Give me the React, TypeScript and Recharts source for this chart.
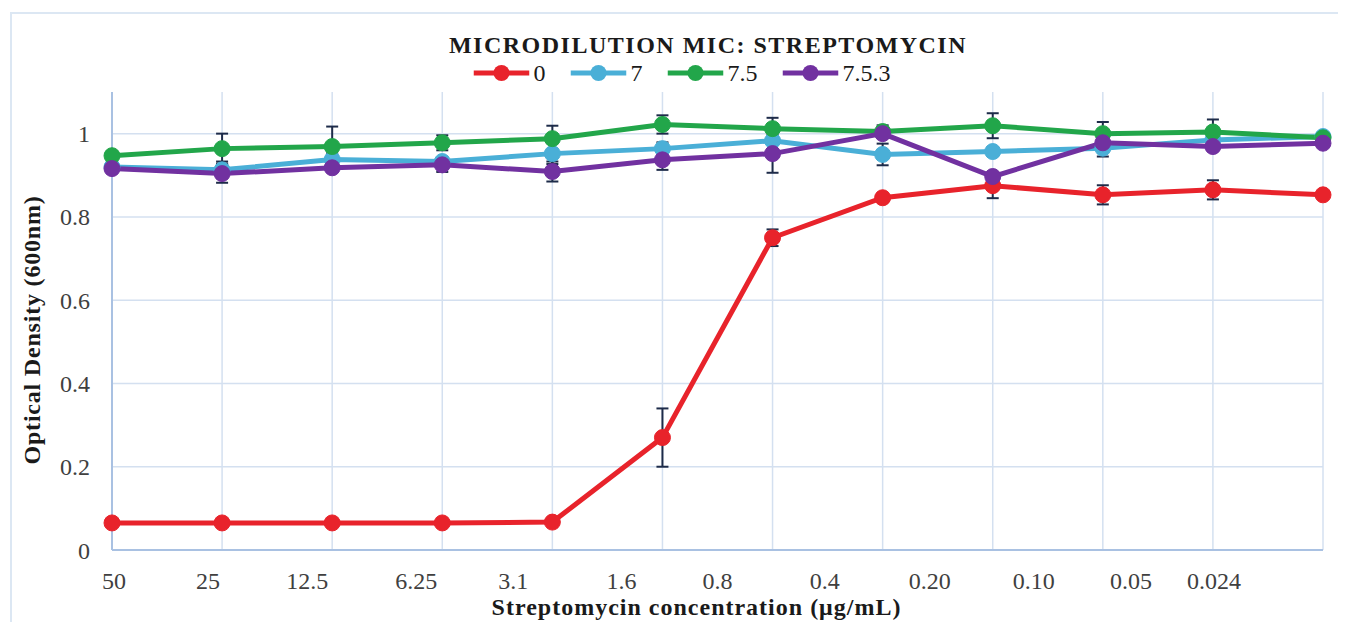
import React from 'react'
import { LineChart, Line, XAxis, YAxis, CartesianGrid, ErrorBar, Label } from 'recharts'

const categories = ['50', '25', '12.5', '6.25', '3.1', '1.6', '0.8', '0.4', '0.20', '0.10', '0.05', '0.024']

const od0 = [0.065, 0.065, 0.065, 0.065, 0.067, 0.27, 0.75, 0.846, 0.875, 0.853, 0.865, 0.853]
const err0 = [0, 0, 0, 0, 0, 0.07, 0.02, 0.01, 0.03, 0.023, 0.023, 0]
const od7 = [0.92, 0.913, 0.938, 0.933, 0.952, 0.964, 0.983, 0.95, 0.957, 0.965, 0.985, 0.993]
const err7 = [0, 0.02, 0.015, 0, 0.025, 0.015, 0, 0.026, 0.01, 0.02, 0, 0]
const od75 = [0.947, 0.964, 0.969, 0.978, 0.988, 1.022, 1.012, 1.005, 1.019, 1.0, 1.004, 0.99]
const err75 = [0, 0.036, 0.048, 0.018, 0.031, 0.022, 0.026, 0.015, 0.03, 0.028, 0.03, 0]
const od753 = [0.916, 0.904, 0.918, 0.925, 0.909, 0.937, 0.952, 1.0, 0.897, 0.978, 0.969, 0.977]
const err753 = [0, 0.022, 0, 0.017, 0.024, 0.024, 0.046, 0, 0, 0, 0, 0]

const yTicks = [0, 0.2, 0.4, 0.6, 0.8, 1]

const data = categories.map((c, i) => ({
  conc: c,
  s0: od0[i], e0: err0[i],
  s7: od7[i], e7: err7[i],
  s75: od75[i], e75: err75[i],
  s753: od753[i], e753: err753[i],
}))

const SERIES = [
  { key: 's0', err: 'e0', name: '0', color: '#e8232b' },
  { key: 's7', err: 'e7', name: '7', color: '#4aafd7' },
  { key: 's75', err: 'e75', name: '7.5', color: '#22a64a' },
  { key: 's753', err: 'e753', name: '7.5.3', color: '#7131a0' },
]

// the labels in the original sit off the category lines, drifting left
const TICK_SHIFT = [2, -14, -25, -26, -39, -41, -55, -58, -63, -69, -82, -109]

const FONT = '"Liberation Serif", "Times New Roman", serif'
const GRID = '#d4e0f0'
const AXIS = '#a9c1e2'
const ERR = '#1d2b49'

function XTick({ x, y, payload, index }: any) {
  return (
    <text x={x + (TICK_SHIFT[index] || 0)} y={y} dy="0.71em" textAnchor="middle"
      fill="#404040" fontSize={24} fontFamily={FONT}>
      {payload.value}
    </text>
  )
}

function LegendItem({ name, color, last }: { name: string; color: string; last?: boolean }) {
  return (
    <div style={{ display: 'flex', alignItems: 'center', marginRight: last ? 0 : 25 }}>
      <svg width={56} height={20}>
        <line x1={0} y1={10} x2={56} y2={10} stroke={color} strokeWidth={5} />
        <circle cx={28} cy={10} r={8} fill={color} />
      </svg>
      <span style={{ marginLeft: 4, fontSize: 24, color: '#1a1a1a' }}>{name}</span>
    </div>
  )
}

export default function App() {
  return (
    <div style={{ paddingTop: 4, paddingLeft: 2 }}>
      <div style={{
        position: 'relative', width: 1330, height: 612, boxSizing: 'border-box',
        border: '2px solid #dce7f3', background: '#fff', fontFamily: FONT,
      }}>
        <div style={{
          position: 'absolute', left: 696, top: 31, transform: 'translate(-50%, -50%)',
          whiteSpace: 'nowrap', lineHeight: 1, fontSize: 24, fontWeight: 'bold',
          letterSpacing: 1.5, color: '#1a1a1a',
        }}>
          MICRODILUTION MIC: STREPTOMYCIN
        </div>
        <div style={{
          position: 'absolute', left: 670, top: 59, transform: 'translate(-50%, -50%)',
          display: 'flex', whiteSpace: 'nowrap', lineHeight: 1,
        }}>
          {SERIES.map((s, i) => (
            <LegendItem key={s.key} name={s.name} color={s.color} last={i === SERIES.length - 1} />
          ))}
        </div>
        <LineChart width={1326} height={606} data={data}
          margin={{ top: 78, right: 15, left: 10, bottom: 30 }}>
          <CartesianGrid stroke={GRID} strokeWidth={1.5} horizontalValues={[0.2, 0.4, 0.6, 0.8, 1]} />
          <XAxis dataKey="conc" scale="point" padding={{ left: 0, right: 0 }} height={40}
            axisLine={{ stroke: AXIS, strokeWidth: 2 }} tickLine={false} tickSize={0} tickMargin={22}
            tick={<XTick />} interval={0}>
            <Label content={({ viewBox }: any) => (
              <text x={viewBox.x + viewBox.width / 2 - 21} y={viewBox.y + 57} dy="0.35em"
                textAnchor="middle" fontSize={24} fontWeight="bold" fontFamily={FONT}
                letterSpacing={1} fill="#1a1a1a">
                Streptomycin concentration (μg/mL)
              </text>
            )} />
          </XAxis>
          <YAxis domain={[0, 1.1]} ticks={yTicks} width={90} tickSize={0} tickMargin={22}
            axisLine={{ stroke: AXIS, strokeWidth: 2 }} tickLine={false}
            tick={{ fill: '#404040', fontSize: 24, fontFamily: FONT }}>
            <Label content={({ viewBox }: any) => {
              const cx = viewBox.x + 10
              const cy = viewBox.y + viewBox.height / 2 + 9
              return (
                <text x={cx} y={cy} dy="0.35em" textAnchor="middle" transform={`rotate(-90, ${cx}, ${cy})`}
                  fontSize={24} fontWeight="bold" fontFamily={FONT} letterSpacing={0.8} fill="#1a1a1a">
                  Optical Density (600nm)
                </text>
              )
            }} />
          </YAxis>
          {SERIES.map(s => (
            <Line key={s.key} dataKey={s.key} name={s.name} stroke={s.color} strokeWidth={5}
              dot={{ r: 8, fill: s.color, stroke: s.color, strokeWidth: 1 }} isAnimationActive={false}>
              <ErrorBar dataKey={s.err} width={6} stroke={ERR} strokeWidth={2} direction="y" />
            </Line>
          ))}
        </LineChart>
      </div>
    </div>
  )
}
